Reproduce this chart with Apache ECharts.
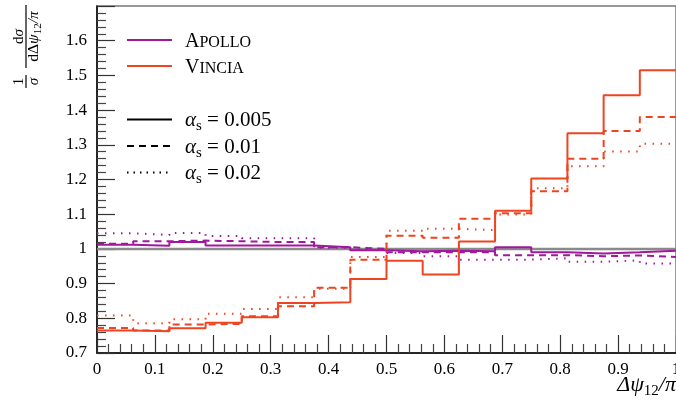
<!DOCTYPE html>
<html>
<head>
<meta charset="utf-8">
<script src="https://cdn.jsdelivr.net/npm/echarts@6/dist/echarts.min.js"></script>
<style>
html, body { margin: 0; padding: 0; background: #fff; }
#chart { width: 676px; height: 406px; }
</style>
</head>
<body>
<div id="chart"></div>
<script>
// bin edges of the histogram (16 bins)
const binEdges = [0, 0.0625, 0.125, 0.1875, 0.25, 0.3125, 0.375, 0.4375, 0.5,
    0.5625, 0.625, 0.6875, 0.75, 0.8125, 0.875, 0.9375, 1]

// Apollo
const apolloSolid  = [1.012, 1.009, 1.020, 1.010, 1.010, 1.010, 1.005, 0.996, 0.993, 0.995, 0.993, 1.005, 0.990, 0.987, 0.990, 0.995]
const apolloDashed = [1.015, 1.022, 1.024, 1.022, 1.020, 1.020, 1.005, 1.000, 0.990, 0.990, 0.990, 0.982, 0.982, 0.979, 0.981, 0.977]
const apolloDotted = [1.045, 1.040, 1.046, 1.037, 1.031, 1.031, 1.003, 0.997, 0.988, 0.979, 0.969, 0.969, 0.973, 0.963, 0.967, 0.958]

// Vincia
const vinciaSolid  = [0.765, 0.763, 0.771, 0.787, 0.803, 0.844, 0.846, 0.913, 0.966, 0.926, 1.021, 1.110, 1.203, 1.333, 1.443, 1.515]
const vinciaDashed = [0.772, 0.765, 0.782, 0.784, 0.806, 0.835, 0.888, 0.969, 1.038, 1.032, 1.087, 1.103, 1.166, 1.260, 1.340, 1.380]
const vinciaDotted = [0.808, 0.786, 0.797, 0.813, 0.827, 0.861, 0.885, 0.977, 1.052, 1.058, 1.054, 1.099, 1.175, 1.238, 1.281, 1.303]

const refValue = 1

const APOLLO = '#a0189e'
const VINCIA = '#ee4422'
const FONT = 'Liberation Serif'

// 把每个bin的值变成 step 线的点
function toSteps(values) {
    let pts = []
    for (let i = 0; i < values.length; i++) {
        pts.push([binEdges[i], values[i]])
    }
    pts.push([binEdges[values.length], values[values.length - 1]])
    return pts
}

function histSeries(name, values, color, dash, z) {
    return {
        name: name,
        type: 'line',
        step: 'end',
        symbol: 'none',
        z: z,
        lineStyle: { color: color, width: 2, type: dash },
        data: toSteps(values)
    }
}

const DASH = [7, 5]
const DOT = [1.5, 6.5]

let series = [
    {
        type: 'line', symbol: 'none', z: 1,
        lineStyle: { color: '#8a8a8a', width: 2.5 },
        data: [[0, refValue], [1, refValue]]
    },
    histSeries('Apollo dotted', apolloDotted, APOLLO, DOT, 2),
    histSeries('Apollo dashed', apolloDashed, APOLLO, DASH, 2),
    histSeries('Apollo', apolloSolid, APOLLO, 'solid', 3),
    histSeries('Vincia dotted', vinciaDotted, VINCIA, DOT, 4),
    histSeries('Vincia dashed', vinciaDashed, VINCIA, DASH, 4),
    histSeries('Vincia', vinciaSolid, VINCIA, 'solid', 5)
]

function fmt(v) {
    return String(Number(v.toFixed(2)))
}

// 文字排版: 用 canvas 量宽度, 一段一段地放 (下标 / 小型大写字母)
const measureCtx = document.createElement('canvas').getContext('2d')
function fontStr(size, italic) {
    return (italic ? 'italic ' : '') + size + 'px "' + FONT + '"'
}
// pieces: [text, size, italic, dy]; y = baseline
function textRow(x, y, pieces, align) {
    let total = 0
    let widths = []
    for (let i = 0; i < pieces.length; i++) {
        measureCtx.font = fontStr(pieces[i][1], pieces[i][2])
        let w = measureCtx.measureText(pieces[i][0]).width
        widths.push(w)
        total += w
    }
    let cx = x
    if (align === 'right') cx = x - total
    if (align === 'center') cx = x - total / 2
    let els = []
    for (let i = 0; i < pieces.length; i++) {
        const p = pieces[i]
        els.push({
            type: 'text',
            style: {
                x: cx, y: y + (p[3] || 0) + p[1] * 0.22,
                text: p[0], font: fontStr(p[1], p[2]),
                textAlign: 'left', textVerticalAlign: 'bottom', fill: '#000'
            }
        })
        cx += widths[i]
    }
    return els
}

// legend
function legendLine(y, color, dash) {
    return {
        type: 'line',
        shape: { x1: 127, y1: y, x2: 172, y2: y },
        style: { stroke: color, lineWidth: 2, lineDash: dash }
    }
}

let graphic = [
    legendLine(40, APOLLO, null),
    legendLine(66, VINCIA, null),
    legendLine(119.5, '#000', null),
    legendLine(146, '#000', [7, 5]),
    legendLine(172.5, '#000', [1.5, 5])
]
graphic = graphic.concat(
    textRow(185, 47, [['A', 20, false], ['POLLO', 16, false]]),
    textRow(185, 73, [['V', 20, false], ['INCIA', 16, false]]),
    textRow(185, 126, [['α', 21, true], ['s', 15, false, 4], [' = 0.005', 21, false]]),
    textRow(185, 153, [['α', 21, true], ['s', 15, false, 4], [' = 0.01', 21, false]]),
    textRow(185, 179.5, [['α', 21, true], ['s', 15, false, 4], [' = 0.02', 21, false]]),
    // x axis title
    textRow(676, 391, [['Δψ', 22, true], ['12', 15, false, 4], ['/π', 22, true]], 'right')
)

// y axis title (rotated fraction)
graphic.push({
    type: 'group',
    x: 26, y: 89,
    rotation: Math.PI / 2,
    children: [
        { type: 'line', shape: { x1: 1, y1: 0, x2: 14, y2: 0 }, style: { stroke: '#000', lineWidth: 1.2 } },
        { type: 'line', shape: { x1: 21, y1: 0, x2: 84, y2: 0 }, style: { stroke: '#000', lineWidth: 1.2 } }
    ].concat(
        textRow(7.5, -3, [['1', 15, false]], 'center'),
        textRow(7.5, 12, [['σ', 15, true]], 'center'),
        textRow(52.5, -3, [['d', 15, false], ['σ', 15, true]], 'center'),
        textRow(52.5, 12.5, [['dΔ', 15.5, false], ['ψ', 15.5, true], ['12', 11, false, 3], ['/π', 15.5, true]], 'center')
    )
})

let option = {
    animation: false,
    backgroundColor: '#fff',
    grid: {
        left: 97, top: 6, right: 0, bottom: 53,
        outerBoundsMode: 'none',
        containLabel: false,
        show: true, borderColor: '#777', borderWidth: 1.5, backgroundColor: 'transparent'
    },
    xAxis: {
        type: 'value',
        min: 0, max: 1, interval: 0.1,
        axisLine: { lineStyle: { color: '#000', width: 1.5 } },
        axisTick: { inside: true, length: 18, lineStyle: { color: '#333', width: 1.2 } },
        minorTick: { show: true, splitNumber: 5, length: 9, lineStyle: { color: '#444', width: 1.2 } },
        splitLine: { show: false },
        axisLabel: {
            margin: 8, color: '#000', fontFamily: FONT, fontSize: 17,
            formatter: fmt
        }
    },
    yAxis: {
        type: 'value',
        min: 0.7, max: 1.7, interval: 0.1,
        axisLine: { lineStyle: { color: '#000', width: 1.5 } },
        axisTick: { inside: true, length: 18, lineStyle: { color: '#333', width: 1.2 } },
        minorTick: { show: true, splitNumber: 5, length: 9, lineStyle: { color: '#444', width: 1.2 } },
        splitLine: { show: false },
        axisLabel: {
            margin: 10, color: '#000', fontFamily: FONT, fontSize: 17,
            formatter: function (v) { return v > 1.65 ? '' : fmt(v) }
        }
    },
    graphic: graphic,
    series: series
}

let myChart = echarts.init(document.getElementById('chart'))
myChart.setOption(option)
</script>
</body>
</html>
